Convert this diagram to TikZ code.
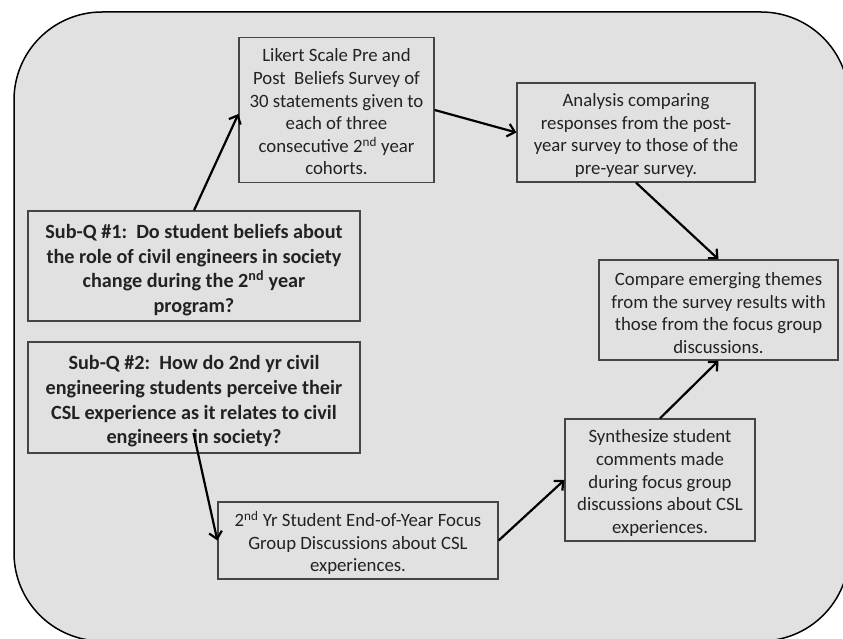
\documentclass[tikz,border=0pt]{standalone}
\usepackage{fontspec}
\setmainfont{Carlito}
\usetikzlibrary{arrows.meta}
\definecolor{bgfill}{HTML}{E1E1E1}
\definecolor{boxline}{HTML}{454545}
\definecolor{txt}{HTML}{222222}
\begin{document}
\begin{tikzpicture}[x=1pt,y=-1pt,
  stepbox/.style={draw=boxline, line width=1.3pt, fill=bgfill, inner sep=0pt},
  steptext/.style={inner sep=0pt, align=center, text=txt, font=\fontsize{18.8}{22.6}\selectfont, yshift=-3pt},
  qtext/.style={steptext, font=\bfseries\fontsize{20.2}{24.6}\selectfont, yshift=-1pt},
  flow/.style={-{Straight Barb[length=7pt,width=13pt]}, line width=2.2pt, black}]
\useasboundingbox (0,0) rectangle (843,639);
\draw[line width=1.5pt, fill=bgfill, rounded corners=88pt] (14,12) rectangle (849,641);

\node[stepbox, minimum width=195pt, minimum height=145pt,
  label={[steptext, yshift=1pt]center:{Likert Scale Pre and\\Post\ \ Beliefs Survey of\\30 statements given to\\each of three\\consecutive 2\textsuperscript{nd} year\\cohorts.}}] (likert) at (336.5,110) {};
\node[stepbox, minimum width=238pt, minimum height=99pt,
  label={[steptext]center:{Analysis comparing\\responses from the post-\\year survey to those of the\\pre-year survey.}}] (analysis) at (636,132.5) {};
\node[stepbox, minimum width=332pt, minimum height=110pt,
  label={[qtext]center:{Sub-Q \#1:\ \ Do student beliefs about\\the role of civil engineers in society\\change during the 2\textsuperscript{nd} year\\program?}}] (subq1) at (194,266) {};
\node[stepbox, minimum width=332pt, minimum height=111pt,
  label={[qtext]center:{Sub-Q \#2:\ \ How do 2nd yr civil\\engineering students perceive their\\CSL experience as it relates to civil\\engineers in society?}}] (subq2) at (194,397.5) {};
\node[stepbox, minimum width=239pt, minimum height=100pt,
  label={[steptext]center:{Compare emerging themes\\from the survey results with\\those from the focus group\\discussions.}}] (compare) at (718.5,310) {};
\node[stepbox, minimum width=190pt, minimum height=122pt,
  label={[steptext]center:{Synthesize student\\comments made\\during focus group\\discussions about CSL\\experiences.}}] (synth) at (660,480) {};
\node[stepbox, minimum width=280pt, minimum height=77pt,
  label={[steptext, yshift=0.5pt]center:{2\textsuperscript{nd} Yr Student End-of-Year Focus\\Group Discussions about CSL\\experiences.}}] (focus) at (358,540.5) {};

\draw[flow] (subq1.north) -- ([yshift=-4pt]likert.west);
\draw[flow] (likert.east) -- (analysis.west);
\draw[flow] (analysis.south) -- (compare.north);
\draw[flow] ([xshift=-0.5pt,yshift=-35.5pt]subq2.center) -- (focus.west);
\draw[flow] (focus.east) -- (synth.west);
\draw[flow] (synth.north) -- (compare.south);
\end{tikzpicture}
\end{document}
